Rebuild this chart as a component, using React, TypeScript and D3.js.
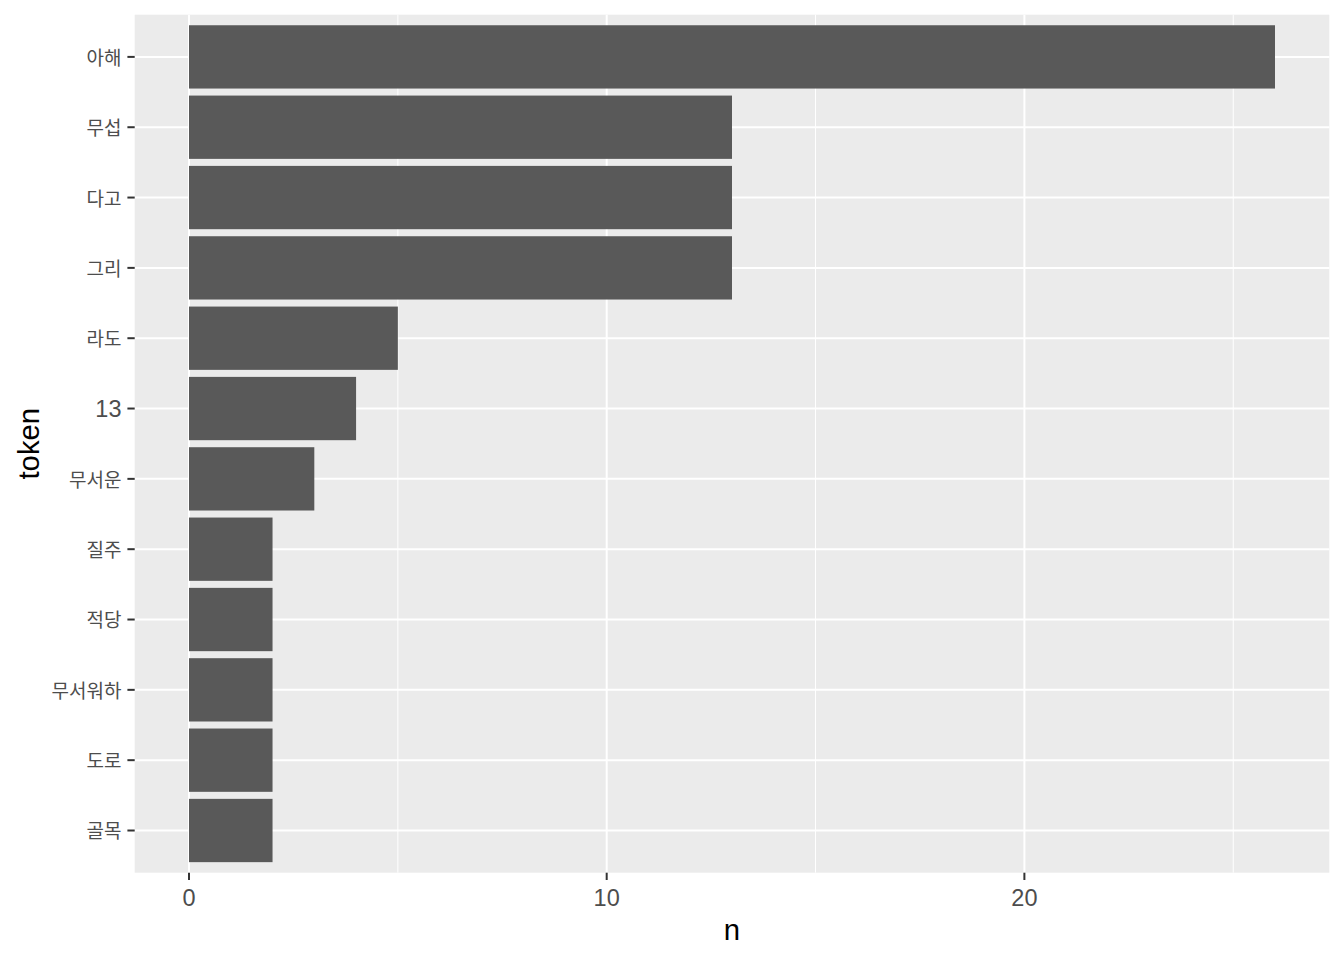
import React from "react";
import * as d3 from "d3";

const tokens: string[] = ["아해", "무섭", "다고", "그리", "라도", "13", "무서운", "질주", "적당", "무서워하", "도로", "골목"];
const counts: number[] = [26, 13, 13, 13, 5, 4, 3, 2, 2, 2, 2, 2];
const xTicks: number[] = [0, 10, 20];
const xMinor: number[] = [5, 15, 25];

const W = 1344;
const H = 960;
const panel = { left: 134.7, right: 1329.3, top: 14.7, bottom: 872.7 };

const hangul = /[\uAC00-\uD7A3]/;

export default function App() {
  const maxN = d3.max(counts) as number;
  const pad = maxN * 0.05;
  const x = d3.scaleLinear().domain([0 - pad, maxN + pad]).range([panel.left, panel.right]);
  const y = d3.scalePoint<string>().domain(tokens).range([panel.top, panel.bottom]).padding(0.6);
  const barH = y.step() * 0.9;
  const tickCol = "#333333";
  const textCol = "#4D4D4D";
  const latin = "'Liberation Sans', Arial, sans-serif";
  const korean = "'Noto Sans CJK KR', 'Noto Sans', sans-serif";

  return (
    <svg width={W} height={H} style={{ position: "absolute", left: 0, top: 0, background: "#fff" }}>
      <rect x={panel.left} y={panel.top} width={panel.right - panel.left} height={panel.bottom - panel.top} fill="#EBEBEB" />
      {xMinor.map((t) => (
        <line key={"mn" + t} x1={x(t)} x2={x(t)} y1={panel.top} y2={panel.bottom} stroke="#fff" strokeWidth={1} />
      ))}
      {xTicks.map((t) => (
        <line key={"mj" + t} x1={x(t)} x2={x(t)} y1={panel.top} y2={panel.bottom} stroke="#fff" strokeWidth={2} />
      ))}
      {tokens.map((t) => (
        <line key={"gy" + t} x1={panel.left} x2={panel.right} y1={y(t)} y2={y(t)} stroke="#fff" strokeWidth={2} />
      ))}
      {tokens.map((t, i) => (
        <rect key={"b" + t} x={x(0)} y={(y(t) as number) - barH / 2} width={x(counts[i]) - x(0)} height={barH} fill="#595959" />
      ))}
      {tokens.map((t) => (
        <g key={"yt" + t}>
          <line x1={panel.left - 7.3} x2={panel.left} y1={y(t)} y2={y(t)} stroke={tickCol} strokeWidth={2} />
          <text
            x={panel.left - 7.3 - 5.9}
            y={y(t)}
            dy={hangul.test(t) ? "0.42em" : "0.38em"}
            textAnchor="end"
            fill={textCol}
            fontFamily={hangul.test(t) ? korean : latin}
            fontSize={hangul.test(t) ? 19 : 23.5}
          >
            {t}
          </text>
        </g>
      ))}
      {xTicks.map((t) => (
        <g key={"xt" + t}>
          <line x1={x(t)} x2={x(t)} y1={panel.bottom} y2={panel.bottom + 7.3} stroke={tickCol} strokeWidth={2} />
          <text x={x(t)} y={906} textAnchor="middle" fill={textCol} fontFamily={latin} fontSize={23.5}>
            {t}
          </text>
        </g>
      ))}
      <text x={(panel.left + panel.right) / 2} y={939.5} textAnchor="middle" fill="#000" fontFamily={latin} fontSize={29.3}>
        n
      </text>
      <text
        transform={`translate(39,${(panel.top + panel.bottom) / 2}) rotate(-90)`}
        textAnchor="middle"
        fill="#000"
        fontFamily={latin}
        fontSize={29.3}
      >
        token
      </text>
    </svg>
  );
}
